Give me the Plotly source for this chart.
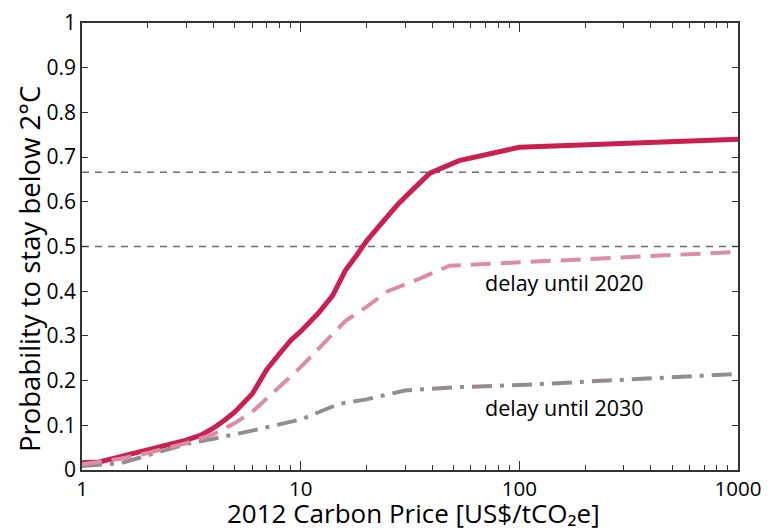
import math
import plotly.graph_objects as go

# Carbon price (US$/tCO2e) and probability of staying below 2°C
price_now = [1, 1.2, 1.5, 2, 2.5, 3, 3.5, 4, 4.5, 5, 6, 7, 8, 9, 10, 12, 14, 16, 18, 20, 23, 28, 33, 39, 53, 100, 1000]
prob_now = [0.016, 0.018, 0.03, 0.045, 0.056, 0.067, 0.078, 0.094, 0.112, 0.13, 0.17, 0.225, 0.26, 0.29,
            0.31, 0.35, 0.39, 0.446, 0.48, 0.512, 0.547, 0.596, 0.63, 0.664, 0.692, 0.722, 0.74]

price_2020 = [1, 1.5, 2, 3, 4, 5, 6, 8, 10, 12, 14, 16, 20, 25, 35, 48, 1000]
prob_2020 = [0.013, 0.025, 0.038, 0.06, 0.08, 0.105, 0.13, 0.185, 0.23, 0.27, 0.305, 0.333, 0.365,
             0.40, 0.428, 0.457, 0.488]

price_2030 = [1, 1.5, 2, 3, 4, 6, 10, 15, 20, 30, 50, 100, 1000]
prob_2030 = [0.009, 0.015, 0.033, 0.058, 0.07, 0.088, 0.113, 0.148, 0.158, 0.178, 0.185, 0.19, 0.215]

ref_levels = [0.5, 0.666]
y_ticks = [0, 0.1, 0.2, 0.3, 0.4, 0.5, 0.6, 0.7, 0.8, 0.9, 1]
y_ticktext = ["0", "0.1", "0.2", "0.3", "0.4", "0.5", "0.6", "0.7", "0.8", "0.9", "1"]
x_ticks = [1, 10, 100, 1000]
x_minor = [m * d for d in (1, 10, 100) for m in range(2, 10)]

labels = ["delay until 2020", "delay until 2030"]
label_pos = [(161.6, 0.42), (161.6, 0.139)]

x_title = "2012 Carbon Price [US$/tCO\u2082e]"
y_title = "Probability to stay below 2°C"

FONT = "Open Sans"
AXIS = "#333333"

fig = go.Figure()
fig.add_trace(go.Scatter(x=price_now, y=prob_now, mode="lines",
                         line=dict(color="#CA1F50", width=5), showlegend=False))
fig.add_trace(go.Scatter(x=price_2030, y=prob_2030, mode="lines",
                         line=dict(color="#958C8F", width=4, dash="20px,8px,4px,8px"), showlegend=False))
fig.add_trace(go.Scatter(x=price_2020, y=prob_2020, mode="lines",
                         line=dict(color="#DB8DA6", width=4, dash="20px,10px"), showlegend=False))

# horizontal reference probabilities
for lvl in ref_levels:
    fig.add_shape(type="line", xref="paper", x0=0, x1=1, yref="y", y0=lvl, y1=lvl,
                  line=dict(color="#6E6E6E", width=1.5, dash="7px,6px"), layer="below")

# curve labels (log axis: annotation x is given in log10 units)
for txt, (px, py) in zip(labels, label_pos):
    fig.add_annotation(x=math.log10(px), y=py, xref="x", yref="y", text=txt, showarrow=False,
                       font=dict(family=FONT, size=21.5, color="black"))

# axis titles
fig.add_annotation(x=0.506, y=-0.096, xref="paper", yref="paper", text=x_title, showarrow=False,
                   xanchor="center", yanchor="middle", borderpad=0,
                   font=dict(family=FONT, size=26, color="black"))
fig.add_annotation(x=-0.079, y=0.45, xref="paper", yref="paper", text=y_title, showarrow=False,
                   textangle=-90, xanchor="center", yanchor="middle",
                   font=dict(family=FONT, size=27.5, color="black"))

fig.update_layout(
    width=776, height=530,
    margin=dict(l=82, r=38, t=23, b=60),
    plot_bgcolor="white", paper_bgcolor="white",
    font=dict(family=FONT, color="black"),
)
fig.update_xaxes(
    type="log", range=[0, 3], tickvals=x_ticks, ticktext=[str(v) for v in x_ticks],
    ticks="inside", ticklen=9, tickwidth=1.2, tickcolor=AXIS,
    minor=dict(tickmode="array", tickvals=x_minor, ticks="inside", ticklen=5, tickwidth=1.2, tickcolor=AXIS),
    showline=True, linecolor=AXIS, linewidth=1.5, mirror="ticks", showgrid=False, zeroline=False,
    tickfont=dict(size=20.5, family=FONT),
    automargin=False,
)
fig.update_yaxes(
    range=[0, 1], tickvals=y_ticks, ticktext=y_ticktext,
    ticks="inside", ticklen=6, tickwidth=1.2, tickcolor=AXIS,
    showline=True, linecolor=AXIS, linewidth=1.5, mirror="ticks", showgrid=False, zeroline=False,
    tickfont=dict(size=21, family=FONT),
    automargin=False,
)

fig.write_html("out.html")
